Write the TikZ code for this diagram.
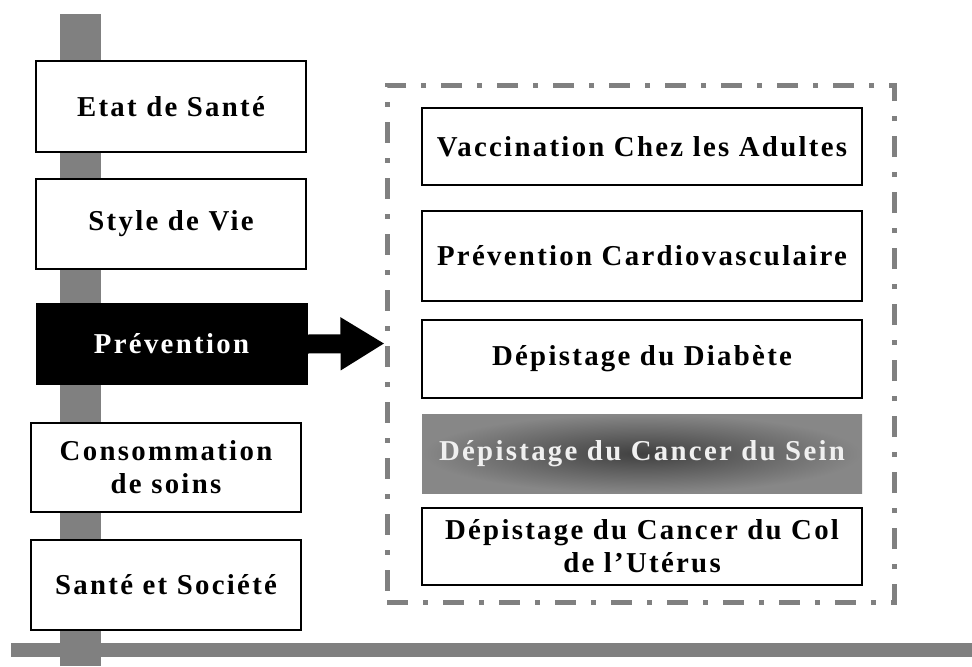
\documentclass[tikz,border=0pt]{standalone}
\usepackage{fontspec}
\setmainfont{Liberation Serif}[BoldFont={Liberation Serif Bold}, LetterSpace=8]
\usepackage{tikz}
\usetikzlibrary{arrows.meta}

\begin{document}
\begin{tikzpicture}[x=0.5pt,y=-0.5pt,
	box/.style={draw, line width=1pt, fill=white, inner sep=0pt, outer sep=0pt, align=center,
		font=\bfseries\fontsize{14.4}{16.5}\selectfont},
	leftbox/.style={box, minimum width=135pt},
	rightbox/.style={box, minimum width=220pt},
	selbox/.style={leftbox, fill=black, text=white},
	hlbox/.style={rightbox, draw=none, inner color=black!75, outer color=black!47, text=white!94!black},
	frame/.style={draw=black!50, line width=2.5pt, dash pattern=on 10.5pt off 7.5pt on 2.5pt off 7.5pt,
		minimum width=253.5pt, minimum height=258.5pt, inner sep=0pt}]
	
	\useasboundingbox (0,0) rectangle (972,666);
	\fill[black!50] (60,14) rectangle (101,666);
	\fill[black!50] (11,643) rectangle (972,657);
	
	\node[leftbox, minimum height=45.5pt] (etat) at (171,106.5) {Etat de Santé};
	\node[leftbox, minimum height=45pt] (style) at (171,224) {Style de Vie};
	\node[selbox, minimum height=40pt] (prev) at (171.5,344) {Prévention};
	\node[leftbox, minimum height=44.5pt] (conso) at (166,467.5) {Consommation\\de soins};
	\node[leftbox, minimum height=45pt] (societe) at (166,585) {Santé et Société};
	
	\node[frame] (liste) at (640.5,343.5) {};
	
	\node[rightbox, minimum height=38.5pt] (vacc) at (642,146.5) {Vaccination Chez les Adultes};
	\node[rightbox, minimum height=45pt] (cardio) at (642,256) {Prévention Cardiovasculaire};
	\node[rightbox, minimum height=39pt] (diab) at (642,359) {Dépistage du Diabète};
	\node[hlbox, minimum height=39.5pt] (sein) at (642,453.5) {Dépistage du Cancer du Sein};
	\node[rightbox, minimum height=38.5pt] (col) at (642,546.5) {Dépistage du Cancer du Col\\de l’Utérus};
	
	\draw[line width=9.5pt, -{Triangle[length=22pt, width=25pt]}] (prev.east) -- (liste.west);
\end{tikzpicture}
\end{document}
